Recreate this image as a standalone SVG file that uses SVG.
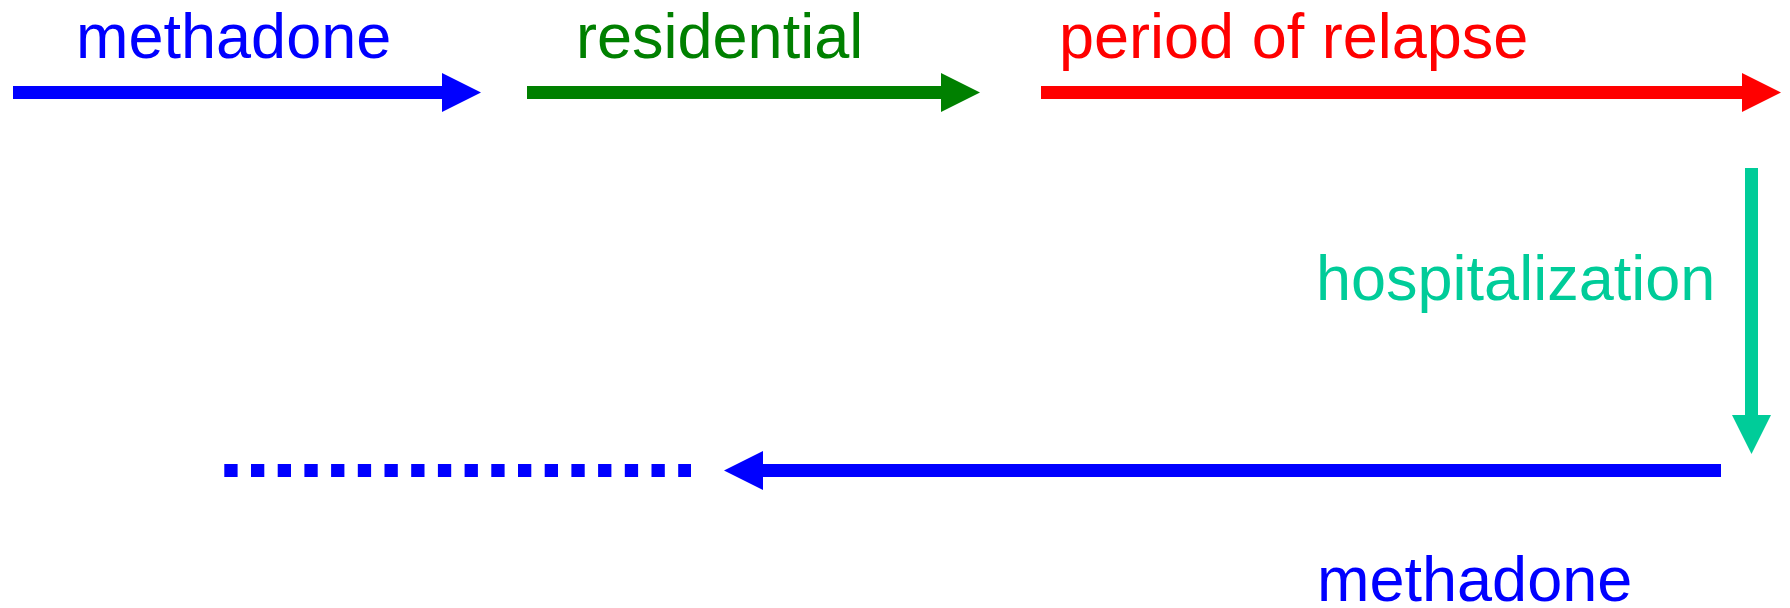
<svg xmlns="http://www.w3.org/2000/svg" width="1790" height="608" viewBox="0 0 1790 608">
  <style>
    text { font-family: "Liberation Sans", Arial, sans-serif; font-size: 63px; }
    .blue { fill: #0000FF; }
    .green { fill: #008000; }
    .red { fill: #FF0000; }
    .teal { fill: #00CC99; }
    .ln { fill: none; stroke-width: 13; }
  </style>
  <rect width="1790" height="608" fill="#FFFFFF"/>
  <g id="label-methadone-top"><text x="76" y="58" class="blue">methadone</text></g>
  <g id="label-residential"><text x="576" y="58" class="green">residential</text></g>
  <g id="label-relapse"><text x="1059" y="58" class="red">period of relapse</text></g>
  <g id="label-hospitalization"><text x="1316" y="300" class="teal">hospitalization</text></g>
  <g id="label-methadone-bottom"><text x="1317" y="601" class="blue">methadone</text></g>
  <g id="connectors">
    <line x1="13" y1="92.5" x2="443" y2="92.5" class="ln" stroke="#0000FF"/>
    <polygon points="442,73 481,92.5 442,112" class="blue"/>
    <line x1="527" y1="92.5" x2="942" y2="92.5" class="ln" stroke="#008000"/>
    <polygon points="941,73 980,92.5 941,112" class="green"/>
    <line x1="1041" y1="92.5" x2="1743" y2="92.5" class="ln" stroke="#FF0000"/>
    <polygon points="1742,73 1781,92.5 1742,112" class="red"/>
    <line x1="1751.5" y1="168" x2="1751.5" y2="416" class="ln" stroke="#00CC99"/>
    <polygon points="1732,415 1751.5,454 1771,415" class="teal"/>
    <line x1="1721" y1="470.5" x2="762" y2="470.5" class="ln" stroke="#0000FF"/>
    <polygon points="763,451 724,470.5 763,490" class="blue"/>
    <line x1="224.3" y1="470.5" x2="691" y2="470.5" stroke="#0000FF" stroke-width="13" stroke-dasharray="13.3 13.4"/>
  </g>
</svg>
